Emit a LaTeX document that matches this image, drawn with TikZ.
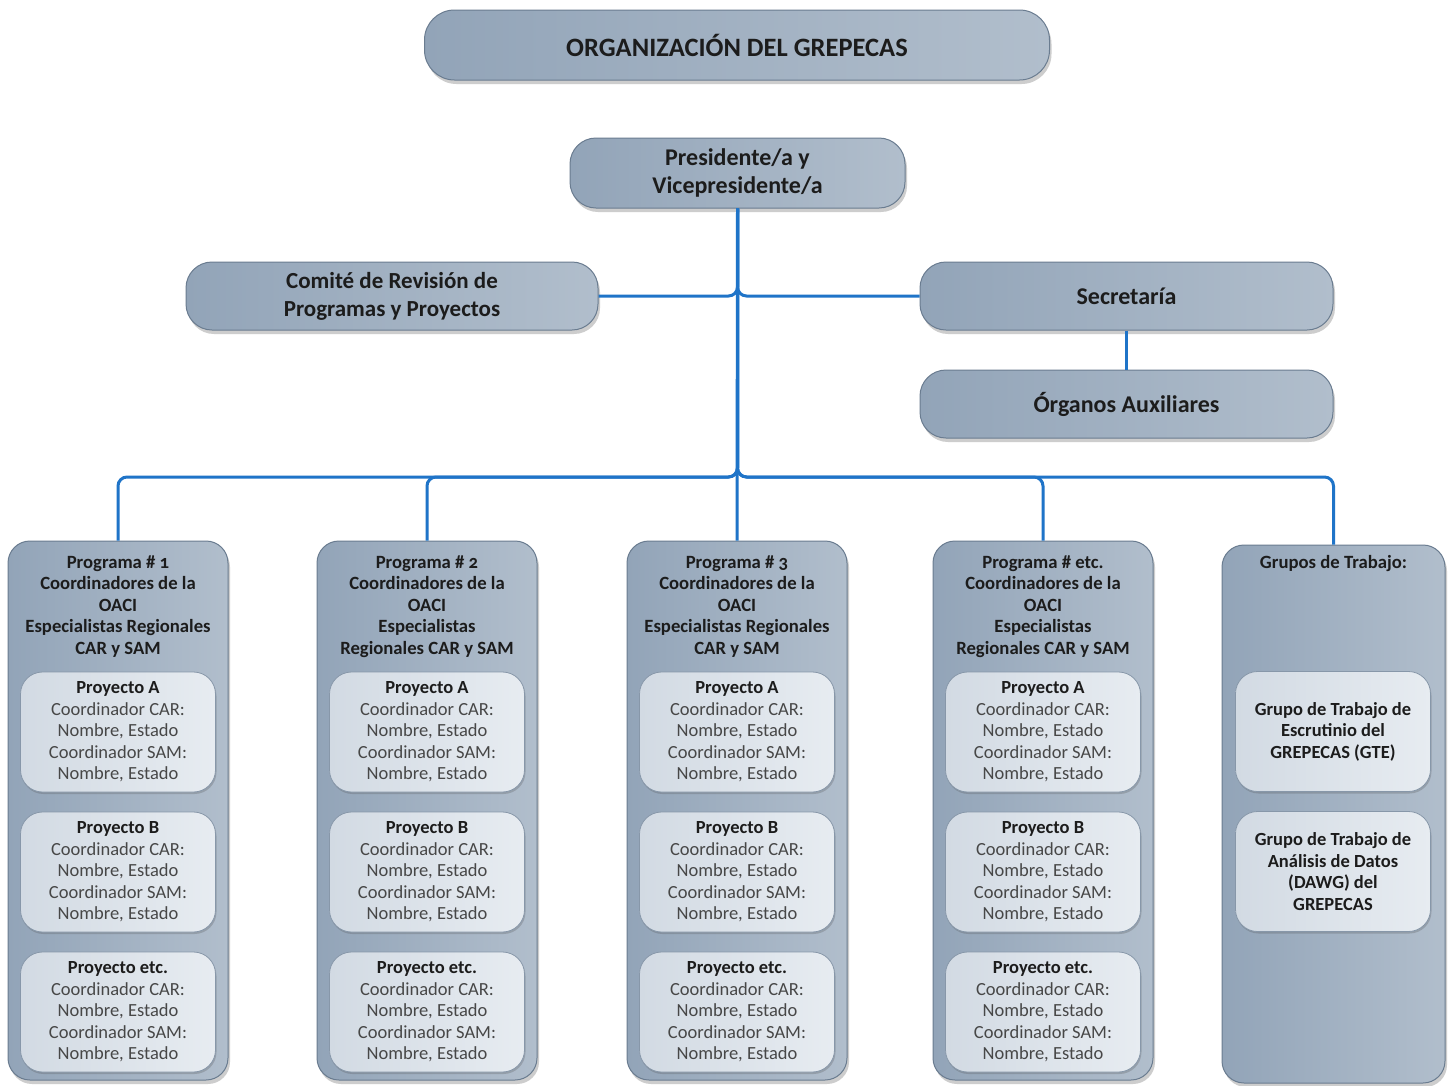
\documentclass[tikz,border=0pt]{standalone}
\usepackage{fontspec}
\setmainfont{Carlito}[Numbers=OldStyle]
\usetikzlibrary{shadows}
\definecolor{connc}{HTML}{1F74C8}
\definecolor{boxL}{HTML}{92A4B8}
\definecolor{boxR}{HTML}{B1BECC}
\definecolor{boxD}{HTML}{6A7C90}
\definecolor{inL}{HTML}{D2DAE3}
\definecolor{inR}{HTML}{E7ECF1}
\definecolor{inD}{HTML}{8797A9}
\definecolor{txt}{HTML}{1C1C1C}
\definecolor{txtg}{HTML}{474747}
\tikzset{
  shad/.style={drop shadow={shadow xshift=2pt,shadow yshift=-4pt,opacity=0.28,fill=black!70}},
  bluebox/.style={draw=boxD,line width=1pt,left color=boxL,right color=boxR,shad,
     rounded corners=26pt,align=center,text=txt,font=\bfseries\fontsize{24}{28}\selectfont,inner sep=0pt},
  outerbox/.style={draw=boxD,line width=1pt,left color=boxL,right color=boxR,shad,
     rounded corners=22pt,inner sep=0pt},
  hdr/.style={align=center,text=txt,font=\bfseries\fontsize{18.7}{21.5}\selectfont,inner sep=0pt},
  innerbox/.style={draw=inD,line width=0.8pt,left color=inL,right color=inR,
     drop shadow={shadow xshift=1pt,shadow yshift=-2pt,opacity=0.25,fill=black!70},
     rounded corners=22pt,minimum width=195pt,minimum height=120pt,inner sep=0pt,
     align=center,text=txtg,font=\fontsize{18.5}{21.5}\selectfont},
  link/.style={draw=connc,line width=3pt,rounded corners=9pt},
}
\newcommand\projtext[1]{\textcolor{txt}{\bfseries #1}\\Coordinador CAR:\\Nombre, Estado\\Coordinador SAM:\\Nombre, Estado}
\newcommand\progcol[3]{%
  \node[outerbox,minimum width=220pt,minimum height=539pt] (#1) at (#2,810.5) {};
  \node[hdr,anchor=north] (#1h) at ([yshift=-15pt]#1.north) {#3};
  \node[innerbox] (#1a) at (#2,732) {\projtext{Proyecto A}};
  \node[innerbox] (#1b) at (#2,872) {\projtext{Proyecto B}};
  \node[innerbox] (#1c) at (#2,1012) {\projtext{Proyecto etc.}};
}
\begin{document}
\begin{tikzpicture}[x=1pt,y=-1pt]
\useasboundingbox (0,0) rectangle (1452,1085);
\fill[white] (0,0) rectangle (1452,1085);

\node[bluebox,minimum width=625pt,minimum height=70pt,rounded corners=30pt,
      font=\bfseries\fontsize{26.5}{28}\selectfont] (title) at (737,45) {ORGANIZACIÓN DEL GREPECAS};
\node[bluebox,minimum width=335pt,minimum height=70pt] (pres) at (737.5,173) {Presidente/a y\\Vicepresidente/a};
\node[bluebox,minimum width=412pt,minimum height=68pt,font=\bfseries\fontsize{23}{28}\selectfont] (com) at (392,296) {Comité de Revisión de\\Programas y Proyectos};
\node[bluebox,minimum width=413pt,minimum height=68pt] (sec) at (1126.5,296) {Secretaría};
\node[bluebox,minimum width=413pt,minimum height=68pt] (org) at (1126.5,404) {Órganos Auxiliares};

\progcol{p1}{118}{Programa \# 1\\Coordinadores de la\\OACI\\Especialistas Regionales\\CAR y SAM}
\progcol{p2}{427}{Programa \# 2\\Coordinadores de la\\OACI\\Especialistas\\Regionales CAR y SAM}
\progcol{p3}{737}{Programa \# 3\\Coordinadores de la\\OACI\\Especialistas Regionales\\CAR y SAM}
\progcol{p4}{1043}{Programa \# etc.\\Coordinadores de la\\OACI\\Especialistas\\Regionales CAR y SAM}

\node[outerbox,minimum width=223pt,minimum height=538pt] (gt) at (1333.5,814) {};
\node[hdr,anchor=north] (gth) at ([yshift=-11pt]gt.north) {Grupos de Trabajo:};
\node[innerbox,text=txt,font=\bfseries\fontsize{18.5}{21.5}\selectfont] (gta) at (1333,731.5) {Grupo de Trabajo de\\Escrutinio del\\GREPECAS (GTE)};
\node[innerbox,text=txt,font=\bfseries\fontsize{18.5}{21.5}\selectfont] (gtb) at (1333,871.5) {Grupo de Trabajo de\\Análisis de Datos\\(DAWG) del\\GREPECAS};

\coordinate (bus) at (737.5,477);
\draw[link] (pres.south) |- (com.east);
\draw[link] (pres.south) |- (sec.west);
\draw[link] (sec.south) -- (org.north);
\draw[link] (pres.south) -- (bus) -| (p1.north);
\draw[link] (pres.south) -- (bus) -| (p2.north);
\draw[link] (pres.south) -- (p3.north);
\draw[link] (pres.south) -- (bus) -| (p4.north);
\draw[link] (pres.south) -- (bus) -| (gt.north);
\end{tikzpicture}
\end{document}
